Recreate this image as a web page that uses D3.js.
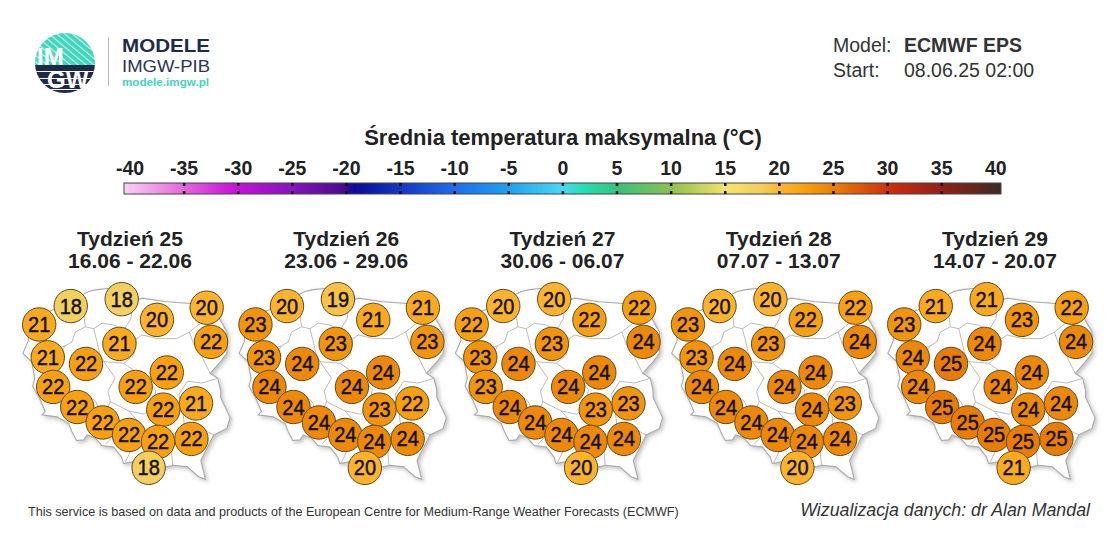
<!DOCTYPE html>
<html>
<head>
<meta charset="utf-8">
<script src="https://cdn.jsdelivr.net/npm/d3@7"></script>
<style>
	html, body { margin: 0; padding: 0; background: #fff; }
	svg { display: block; }
	text { font-family: "Liberation Sans", Arial, sans-serif; }
</style>
</head>
<body>
<svg id="chart" width="1118" height="556"></svg>
<script>
const weekNames = ["Tydzień 25", "Tydzień 26", "Tydzień 27", "Tydzień 28", "Tydzień 29"];
const weekDates = ["16.06 - 22.06", "23.06 - 29.06", "30.06 - 06.07", "07.07 - 13.07", "14.07 - 20.07"];

// station locations [lon, lat]
const stations = [
	[14.91, 53.73], [16.42, 54.29], [18.86, 54.50], [22.93, 54.24], [20.55, 53.87],
	[23.14, 53.20], [18.75, 53.14], [15.32, 52.73], [17.15, 52.53], [21.02, 52.27],
	[15.58, 51.83], [19.53, 51.83], [22.42, 51.33], [16.73, 51.22], [20.85, 51.14],
	[17.95, 50.75], [22.20, 50.25], [19.21, 50.37], [20.60, 50.16], [20.15, 49.37]
];

// same order as stations
const week25 = [21, 18, 18, 20, 20, 22, 21, 21, 22, 22, 22, 22, 21, 22, 22, 22, 22, 22, 22, 18];
const week26 = [23, 20, 19, 21, 21, 23, 23, 23, 24, 24, 24, 24, 22, 24, 23, 24, 24, 24, 24, 20];
const week27 = [22, 20, 20, 22, 22, 24, 23, 23, 24, 24, 23, 24, 23, 24, 23, 24, 24, 24, 24, 20];
const week28 = [23, 20, 20, 22, 22, 24, 23, 23, 24, 24, 24, 24, 23, 24, 24, 24, 24, 24, 24, 20];
const week29 = [23, 21, 21, 22, 23, 24, 24, 24, 25, 24, 24, 24, 24, 25, 24, 25, 25, 25, 25, 21];
const weeks = [week25, week26, week27, week28, week29];

const legendTicks = d3.range(-40, 41, 5);
const legendStops = [-40, -35, -30, -25, -20, -19, -10, -5, 0, 2, 5, 10, 15, 18, 20, 22, 25, 30, 35, 40];
const legendColors = ["#fbd3f4", "#e570dc", "#c912d8", "#8a14c0", "#4c0a8c", "#0a0a9c", "#1f6cea", "#1f9fef", "#48d8f6", "#22e0b0", "#34c27c", "#90c050", "#f7e26e", "#f2cf5e", "#fdb42c", "#f9a010", "#e87c06", "#cc2c10", "#8c2018", "#3c2c20"];

// Poland outline and voivodeship borders, [lon, lat]
const outline = [
	[14.22, 53.92], [14.6, 53.98], [15.0, 54.05], [15.58, 54.18], [16.2, 54.32], [16.85, 54.59], [17.28, 54.73], [17.7, 54.79],
	[18.33, 54.83], [18.8, 54.66], [18.5, 54.6], [18.7, 54.42], [19.4, 54.42], [19.83, 54.53], [21.0, 54.42], [22.15, 54.37],
	[22.79, 54.36], [23.35, 54.25], [23.5, 53.95], [23.9, 53.5], [23.9, 52.85], [23.6, 52.6], [23.1, 52.24],
	[23.46, 52.09], [23.59, 51.74], [23.6, 51.5], [23.75, 51.3], [24.05, 50.9], [23.9, 50.57], [23.27, 50.37], [22.65, 49.6],
	[22.87, 49.02], [22.55, 49.1], [22.0, 49.4], [21.35, 49.45], [21.0, 49.4], [20.3, 49.4], [20.0, 49.2], [19.75, 49.4], [19.43, 49.56], [18.95, 49.5],
	[18.85, 49.7], [18.48, 50.0], [17.9, 50.05], [17.6, 50.27], [17.2, 50.37], [17.04, 50.22], [16.7, 50.2], [16.48, 50.47], [16.32, 50.72],
	[15.76, 50.92], [15.04, 50.98], [15.2, 51.08], [14.95, 51.45], [14.6, 51.85], [14.7, 52.1], [14.55, 52.6], [14.13, 52.85],
	[14.4, 53.25], [14.22, 53.92]
];
const borders = [
	[[16.75, 54.56], [16.95, 54.25], [17.05, 54.0], [17.12, 53.66], [16.64, 53.5], [16.48, 53.2], [16.15, 53.08], [15.6, 52.95], [14.45, 52.8]],
	[[16.15, 53.08], [15.85, 52.75], [15.9, 52.3], [15.75, 51.95], [15.95, 51.65]],
	[[14.95, 51.45], [15.4, 51.6], [15.95, 51.65], [16.4, 51.65], [16.9, 51.55], [17.3, 51.55], [17.6, 51.4], [17.8, 51.15]],
	[[17.12, 53.66], [17.52, 53.6], [17.92, 53.77], [18.48, 53.71], [18.95, 53.55], [19.3, 53.9], [19.4, 54.42]],
	[[18.95, 53.55], [19.35, 53.4], [19.59, 53.3], [19.83, 53.41], [20.6, 53.3], [21.5, 53.3], [22.1, 53.5], [22.7, 53.8], [22.79, 54.36]],
	[[17.52, 53.6], [17.68, 53.2], [17.8, 52.85], [18.0, 52.6], [18.96, 52.55], [19.44, 52.8], [19.59, 53.3]],
	[[22.1, 53.5], [22.3, 53.15], [22.7, 52.75], [23.1, 52.24]],
	[[18.0, 52.6], [18.55, 52.1], [18.2, 51.7], [18.32, 51.38], [18.15, 51.15], [17.8, 51.15], [17.65, 50.75], [17.7, 50.3]],
	[[18.96, 52.55], [19.4, 52.35], [20.0, 52.1], [20.5, 51.75], [20.4, 51.3], [19.95, 51.0], [19.2, 51.1], [18.32, 51.38]],
	[[18.15, 51.15], [18.6, 50.85], [18.4, 50.3], [18.1, 50.1]],
	[[19.2, 51.1], [19.75, 50.7], [19.5, 50.3], [19.3, 49.9], [19.0, 49.5]],
	[[19.75, 50.7], [20.4, 50.3], [21.2, 50.3], [21.85, 50.7], [22.55, 50.6], [23.27, 50.37]],
	[[21.2, 50.3], [21.3, 49.45]],
	[[20.4, 51.3], [21.8, 51.05], [21.85, 50.7]],
	[[21.8, 51.05], [21.6, 51.6], [22.0, 52.0], [22.7, 51.95], [23.46, 52.09]]
];

const svg = d3.select("#chart");
const panelStep = 216.25;

// map scales of the first panel, the others are shifted by panelStep
const lonScale = d3.scaleLinear().domain([18.3, 22.85]).range([110, 205]);
const latScale = d3.scaleLinear().domain([54.83, 49.0]).range([288.3, 480]);
const mapLine = d3.line().x(d => lonScale(d[0])).y(d => latScale(d[1]));

const tempColor = d3.scaleLinear().domain(legendStops).range(legendColors);
const legendX = d3.scaleLinear().domain([-40, 40]).range([130, 995.8]);

const defs = svg.append("defs");

const grad = defs.append("linearGradient").attr("id", "legend-grad");
legendStops.forEach((s, i) => {
	grad.append("stop")
		.attr("offset", (s + 40) / 80)
		.attr("stop-color", legendColors[i]);
});

const shadow = defs.append("filter").attr("id", "map-shadow")
	.attr("x", "-10%").attr("y", "-10%").attr("width", "125%").attr("height", "125%");
shadow.append("feDropShadow")
	.attr("dx", 2).attr("dy", 2).attr("stdDeviation", 2)
	.attr("flood-color", "#888").attr("flood-opacity", 0.5);

const hatch = defs.append("pattern").attr("id", "logo-hatch")
	.attr("width", 5).attr("height", 5)
	.attr("patternUnits", "userSpaceOnUse").attr("patternTransform", "rotate(-50)");
hatch.append("rect").attr("width", 5).attr("height", 5).attr("fill", "#3fd6bd");
hatch.append("rect").attr("width", 1.2).attr("height", 5).attr("fill", "#c5f1e8");

defs.append("clipPath").attr("id", "logo-clip")
	.append("circle").attr("cx", 65).attr("cy", 63).attr("r", 30);

// logo
const logo = svg.append("g");
const logoArt = logo.append("g").attr("clip-path", "url(#logo-clip)");
logoArt.append("rect").attr("x", 35).attr("y", 33).attr("width", 60).attr("height", 33).attr("fill", "url(#logo-hatch)");
logoArt.append("rect").attr("x", 35).attr("y", 65).attr("width", 60).attr("height", 30).attr("fill", "#1f2a48");
[71, 78, 84, 89].forEach(y => {
	logoArt.append("rect").attr("x", 35).attr("y", y).attr("width", 60).attr("height", 1).attr("fill", "#fff");
});
logo.append("text").attr("x", 37).attr("y", 65).attr("font-size", 24).attr("font-weight", "bold").attr("fill", "#fff").text("IM");
logo.append("text").attr("x", 47).attr("y", 88).attr("font-size", 24).attr("font-weight", "bold").attr("fill", "#fff").text("GW");
logo.append("line").attr("x1", 108.5).attr("x2", 108.5).attr("y1", 37).attr("y2", 86)
	.attr("stroke", "#bbb").attr("stroke-width", 1);
// the three logo lines sit tight, stretched to the same width
logo.append("text").attr("x", 122).attr("y", 52).attr("font-size", 17.5).attr("font-weight", "bold")
	.attr("textLength", 88).attr("lengthAdjust", "spacingAndGlyphs")
	.attr("fill", "#1f2a48").text("MODELE");
logo.append("text").attr("x", 122).attr("y", 71.5).attr("font-size", 17)
	.attr("textLength", 88).attr("lengthAdjust", "spacingAndGlyphs")
	.attr("fill", "#2b3450").text("IMGW-PIB");
logo.append("text").attr("x", 122).attr("y", 86).attr("font-size", 11).attr("font-weight", "bold")
	.attr("textLength", 87).attr("lengthAdjust", "spacingAndGlyphs")
	.attr("fill", "#3fd6bd").text("modele.imgw.pl");

// model info
const info = svg.append("g").attr("font-size", 19.5).attr("fill", "#333");
info.append("text").attr("x", 833).attr("y", 52).text("Model:");
info.append("text").attr("x", 904).attr("y", 52).attr("font-weight", "bold").text("ECMWF EPS");
info.append("text").attr("x", 833).attr("y", 77).text("Start:");
info.append("text").attr("x", 904).attr("y", 77).text("08.06.25 02:00");

// legend
svg.append("text").attr("x", 563).attr("y", 145).attr("text-anchor", "middle")
	.attr("font-size", 22).attr("font-weight", "bold").attr("fill", "#222")
	.text("Średnia temperatura maksymalna (°C)");

svg.append("rect").attr("x", 124).attr("y", 183).attr("width", 877).attr("height", 11)
	.attr("fill", "url(#legend-grad)").attr("stroke", "#444").attr("stroke-width", 1);

svg.append("g").selectAll("text")
	.data(legendTicks)
	.enter().append("text")
	.attr("x", d => legendX(d))
	.attr("y", 175)
	.attr("text-anchor", "middle")
	.attr("font-size", 19.5)
	.attr("font-weight", "bold")
	.attr("fill", "#222")
	.text(d => d);

const tickMarks = svg.append("g").attr("stroke", "#111").attr("stroke-width", 2.5);
legendTicks.slice(1, -1).forEach(d => {
	tickMarks.append("line").attr("x1", legendX(d)).attr("x2", legendX(d)).attr("y1", 183).attr("y2", 186);
	tickMarks.append("line").attr("x1", legendX(d)).attr("x2", legendX(d)).attr("y1", 191).attr("y2", 194);
});

// one panel per week
weeks.forEach((values, i) => {
	const panel = svg.append("g").attr("transform", `translate(${i * panelStep}, 0)`);

	panel.append("text").attr("x", 130).attr("y", 246).attr("text-anchor", "middle")
		.attr("font-size", 21).attr("font-weight", "bold").attr("fill", "#222").text(weekNames[i]);
	panel.append("text").attr("x", 130).attr("y", 268).attr("text-anchor", "middle")
		.attr("font-size", 21).attr("font-weight", "bold").attr("fill", "#222").text(weekDates[i]);

	panel.append("path")
		.attr("d", mapLine(outline))
		.attr("fill", "#fff")
		.attr("stroke", "#aaa")
		.attr("stroke-width", 1.1)
		.attr("filter", "url(#map-shadow)");

	panel.selectAll(".border")
		.data(borders)
		.enter().append("path")
		.attr("class", "border")
		.attr("d", mapLine)
		.attr("fill", "none")
		.attr("stroke", "#aaa")
		.attr("stroke-width", 0.8);

	const bubble = panel.selectAll(".bubble")
		.data(values)
		.enter().append("g")
		.attr("class", "bubble")
		.attr("transform", (d, j) => `translate(${lonScale(stations[j][0])}, ${latScale(stations[j][1])})`);

	bubble.append("circle")
		.attr("r", 16.7)
		.attr("fill", d => tempColor(d))
		.attr("stroke", "#5c4a26")
		.attr("stroke-width", 1);

	// digits in the reference are taller than they are wide
	bubble.append("text")
		.attr("transform", "translate(0, 7.5) scale(1, 1.12)")
		.attr("text-anchor", "middle")
		.attr("font-size", 20)
		.attr("fill", "#111")
		.attr("stroke", "#111")
		.attr("stroke-width", 0.4)
		.text(d => d);
});

// footer
svg.append("text").attr("x", 28).attr("y", 516).attr("font-size", 12.6).attr("fill", "#333")
	.text("This service is based on data and products of the European Centre for Medium-Range Weather Forecasts (ECMWF)");
svg.append("text").attr("x", 1090).attr("y", 516).attr("text-anchor", "end")
	.attr("font-size", 17.8).attr("font-style", "italic").attr("fill", "#333")
	.text("Wizualizacja danych: dr Alan Mandal");
</script>
</body>
</html>
